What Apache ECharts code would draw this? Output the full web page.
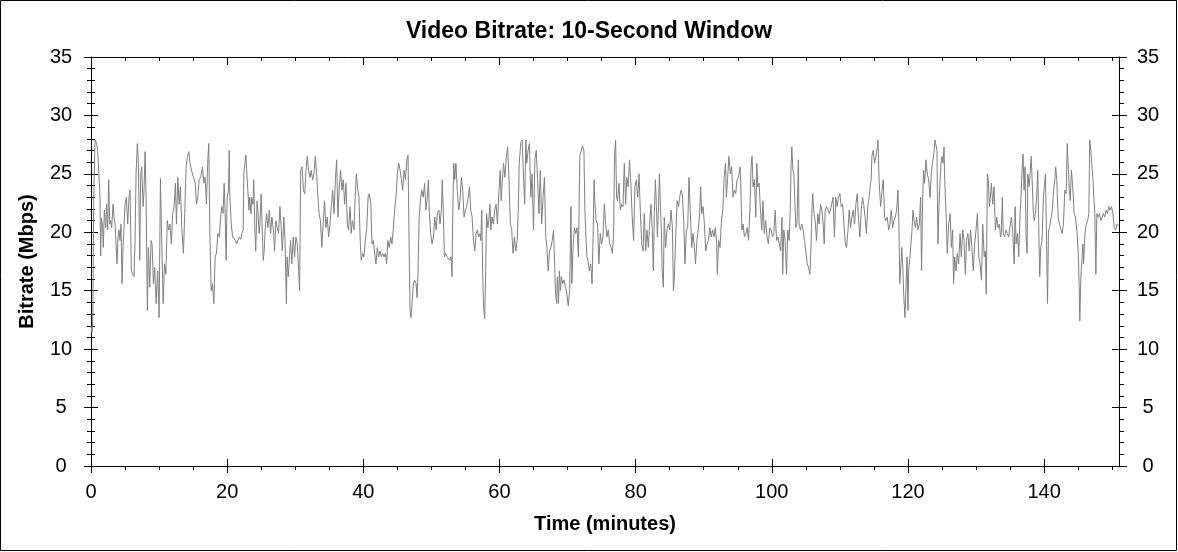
<!DOCTYPE html>
<html>
<head>
<meta charset="utf-8">
<title>Video Bitrate: 10-Second Window</title>
<script src="https://cdn.jsdelivr.net/npm/echarts@6/dist/echarts.min.js"></script>
<style>
html, body { margin: 0; padding: 0; background: #fff; }
#chart { width: 1178px; height: 552px; }
</style>
</head>
<body>
<div id="chart"></div>
<script>
// [minutes, Mbps], one block per stretch of the timeline
var part1 = [[0,12.0],[0.15,11.4],[0.27,12.6],[0.4,23.0],[0.59,27.9],[0.83,27.6],[0.98,27.0],[1.08,25.9],[1.22,26.0],[1.32,23.0],[1.42,18.0],[1.52,21.2],[1.67,20.7],[1.81,18.7],[1.96,21.9],[2.16,20.4],[2.3,22.4],[2.45,20.2],[2.6,24.5],[2.75,20.7],[2.89,21.0],[3.04,20.4],[3.24,22.4],[3.38,21.3],[3.53,20.7],[3.68,19.0],[3.82,17.3],[3.97,19.6],[4.12,20.2],[4.26,19.3],[4.41,20.7],[4.56,15.6],[4.71,18.7],[4.85,20.4],[5.0,22.4],[5.2,23.0],[5.39,20.7],[5.59,23.0],[5.74,23.6],[5.93,16.7],[6.13,16.4],[6.32,16.2],[6.47,19.3],[6.62,25.0],[6.81,27.6],[6.96,25.9],[7.16,17.6],[7.3,25.0],[7.45,25.6],[7.65,22.2],[7.79,23.6],[7.94,26.9],[8.09,23.0],[8.28,13.3],[8.43,18.7],[8.63,15.3],[8.82,19.3],[8.97,19.0],[9.17,15.6],[9.36,17.0],[9.56,13.9],[9.8,16.7],[10.0,12.7],[10.2,24.6],[10.4,19.0],[10.6,13.9],[10.8,17.3],[11.0,16.4],[11.2,21.0],[11.4,20.2],[11.6,20.7],[11.8,19.0],[12.0,21.6],[12.2,22.2],[12.4,24.2],[12.55,20.7],[12.75,24.7],[12.94,22.4],[13.14,23.9],[13.33,20.4],[13.58,18.2],[13.77,21.6],[13.97,25.6],[14.17,26.5],[14.36,26.9],[14.56,25.9],[14.8,25.2],[15.05,25.3],[15.3,24.2],[15.5,22.4],[15.69,23.0],[15.88,24.5],[16.13,24.7],[16.37,25.6],[16.57,24.2],[16.76,24.7],[16.96,22.4],[17.16,26.2],[17.3,27.6],[17.45,20.2],[17.65,15.0],[17.84,15.6],[18.04,13.9],[18.24,17.9],[18.43,18.2],[18.63,19.9],[18.87,19.6]];
var part2 = [[19.0,21.0],[19.2,22.2],[19.4,21.6],[19.56,24.2],[19.7,21.6],[19.85,17.6],[20.0,23.0],[20.2,23.6],[20.3,27.0],[20.4,23.0],[20.6,20.7],[20.8,19.6],[21.0,19.6],[21.2,19.3],[21.4,19.0],[21.57,19.3],[21.8,19.6],[22.0,19.4],[22.16,19.9],[22.35,20.2],[22.45,25.0],[22.6,25.9],[22.75,26.6],[22.9,25.0],[23.04,23.6],[23.2,21.9],[23.3,23.0],[23.5,21.6],[23.6,23.0],[23.8,22.4],[23.9,24.5],[24.07,20.2],[24.2,18.4],[24.4,22.7],[24.5,21.9],[24.7,19.9],[24.8,20.7],[25.0,23.3],[25.15,20.2],[25.3,17.6],[25.44,18.4],[25.6,20.4],[25.8,21.6],[25.98,20.4],[26.2,21.9],[26.37,19.9],[26.57,21.3],[26.8,20.2],[26.96,18.4],[27.15,21.0],[27.35,20.4],[27.55,19.9],[27.75,22.2],[27.94,20.4],[28.1,18.4],[28.33,21.3],[28.5,19.3],[28.7,13.9],[28.8,17.9],[28.97,16.2],[29.1,17.3],[29.3,19.3],[29.5,17.3],[29.7,19.6],[29.9,17.9],[30.1,19.6],[30.3,19.0],[30.5,16.7],[30.64,15.0],[30.8,25.3],[31.0,25.6],[31.2,23.6],[31.4,23.3],[31.57,25.3],[31.77,26.5],[31.96,25.3],[32.16,24.7],[32.35,25.3],[32.55,24.5],[32.75,25.0],[32.94,26.5],[33.14,25.0],[33.33,23.0],[33.5,21.6],[33.7,21.0],[33.9,18.7],[34.1,20.7],[34.3,22.7],[34.5,20.4],[34.7,21.3],[34.9,19.6],[35.1,20.7],[35.3,22.2],[35.5,23.6],[35.7,21.6],[35.9,24.5],[36.08,26.2],[36.27,21.3],[36.47,23.9],[36.67,25.3],[36.86,23.6],[37.06,24.5],[37.25,22.4],[37.45,24.2],[37.65,20.7],[37.84,20.2],[38.04,22.2]];
var part3 = [[38.09,21.9],[38.2,19.9],[38.4,21.0],[38.63,20.2],[38.8,23.0],[38.97,25.0],[39.2,23.6],[39.36,23.0],[39.56,19.0],[39.7,17.6],[39.9,18.2],[40.1,17.9],[40.3,19.3],[40.5,20.4],[40.7,23.0],[40.88,23.3],[41.1,22.4],[41.27,19.0],[41.47,19.3],[41.67,18.2],[41.86,17.3],[42.06,18.7],[42.25,17.9],[42.45,18.4],[42.65,17.9],[42.84,18.2],[43.04,17.9],[43.24,18.2],[43.43,17.3],[43.6,19.3],[43.8,18.7],[44.02,19.6],[44.2,19.0],[44.4,20.2],[44.6,21.9],[44.8,23.0],[45.0,25.0],[45.2,25.9],[45.4,25.3],[45.6,24.5],[45.78,23.6],[45.98,25.3],[46.18,24.5],[46.4,26.2],[46.57,26.6],[46.7,20.2],[46.86,13.3],[47.0,12.7],[47.16,13.9],[47.35,15.6],[47.55,15.9],[47.75,15.6],[47.9,14.4],[48.04,16.7],[48.2,21.3],[48.43,23.0],[48.6,23.6],[48.8,23.0],[49.0,24.2],[49.2,21.9],[49.4,23.0],[49.56,24.5],[49.7,21.6],[49.9,19.9],[50.1,19.0],[50.3,19.6],[50.5,21.3],[50.7,20.2],[50.88,21.6],[51.1,21.9],[51.27,20.7],[51.47,21.9],[51.6,24.5],[51.76,21.6],[51.9,17.9],[52.1,18.2],[52.3,17.9],[52.5,17.9],[52.7,17.6],[52.9,17.9],[53.04,16.2],[53.1,20.2],[53.28,25.9],[53.43,24.5],[53.6,25.9],[53.8,23.6],[54.02,21.9],[54.2,22.7],[54.4,24.7],[54.6,23.6],[54.8,21.3],[55.0,21.9],[55.2,22.2],[55.4,23.0],[55.6,23.9],[55.78,21.9],[55.98,21.3],[56.18,19.3],[56.37,18.4],[56.57,19.9],[56.76,20.2],[56.96,19.6],[57.16,19.9]];
var part4 = [[57.25,19.3],[57.4,21.9],[57.55,15.9],[57.7,13.3],[57.84,12.6],[57.99,17.3],[58.1,21.6],[58.3,20.4],[58.43,21.0],[58.6,22.4],[58.73,20.2],[58.9,21.3],[59.1,20.7],[59.3,21.9],[59.5,22.4],[59.7,20.7],[59.9,23.3],[60.1,25.3],[60.25,22.7],[60.4,24.2],[60.6,25.9],[60.8,24.7],[61.0,26.5],[61.2,27.3],[61.4,24.5],[61.6,20.7],[61.8,20.2],[61.98,18.2],[62.2,19.6],[62.4,18.4],[62.6,19.3],[62.75,21.6],[62.9,25.9],[63.14,27.7],[63.33,27.9],[63.5,25.3],[63.7,22.4],[63.87,27.9],[64.0,25.9],[64.2,27.0],[64.4,27.6],[64.6,23.0],[64.8,25.0],[65.0,20.2],[65.2,26.2],[65.4,27.0],[65.6,24.5],[65.8,21.6],[66.0,25.3],[66.2,20.7],[66.4,23.0],[66.6,24.7],[66.8,19.6],[66.96,18.7],[67.16,16.7],[67.35,18.4],[67.55,18.7],[67.75,19.3],[67.94,20.2],[68.1,17.3],[68.24,14.7],[68.4,13.9],[68.5,16.2],[68.67,13.9],[68.8,16.7],[68.96,15.0],[69.1,16.2],[69.3,15.6],[69.5,15.9],[69.7,15.3],[69.9,14.7],[70.1,13.7],[70.3,15.0],[70.5,22.2],[70.63,15.6],[70.8,18.7],[71.0,20.4],[71.2,19.9],[71.4,20.4],[71.6,17.9],[71.8,26.5],[72.0,27.0],[72.2,27.4],[72.4,27.0],[72.55,21.9],[72.7,19.6],[72.84,17.9],[73.0,17.6],[73.2,16.7],[73.4,17.3],[73.6,15.6],[73.75,19.6],[73.9,24.5],[74.0,22.7],[74.2,21.0],[74.4,20.7],[74.6,17.3],[74.8,19.9],[75.0,19.0],[75.2,19.6],[75.4,22.4],[75.6,20.7],[75.78,19.6],[75.98,20.2],[76.2,19.0]];
var part5 = [[76.4,18.7],[76.57,18.2],[76.76,19.6],[76.9,26.5],[77.06,27.9],[77.2,23.0],[77.35,22.7],[77.55,24.2],[77.75,21.9],[77.94,22.4],[78.14,22.2],[78.33,25.9],[78.53,22.4],[78.7,24.7],[78.9,23.9],[79.1,26.2],[79.3,24.2],[79.5,21.3],[79.7,19.3],[79.9,23.9],[80.1,24.5],[80.3,23.0],[80.5,25.0],[80.7,21.6],[80.9,19.0],[81.1,18.4],[81.27,21.6],[81.47,18.4],[81.67,20.2],[81.86,18.7],[82.06,20.7],[82.25,22.4],[82.45,20.2],[82.6,16.7],[82.75,21.6],[82.9,24.5],[83.04,22.4],[83.2,19.6],[83.33,21.6],[83.5,25.0],[83.6,23.0],[83.77,20.2],[83.9,16.7],[84.07,15.3],[84.2,21.3],[84.4,18.7],[84.6,20.2],[84.8,20.7],[85.0,20.2],[85.2,21.9],[85.4,20.4],[85.55,15.0],[85.7,16.2],[85.9,19.9],[86.1,22.7],[86.3,22.2],[86.47,23.0],[86.67,23.6],[86.86,23.3],[87.06,21.0],[87.25,17.3],[87.45,20.2],[87.65,20.4],[87.84,24.7],[88.04,21.6],[88.24,18.7],[88.43,19.9],[88.6,19.0],[88.8,17.3],[89.0,19.3],[89.2,20.2],[89.4,21.6],[89.55,23.9],[89.7,21.6],[89.9,22.2],[90.1,20.7],[90.3,18.4],[90.5,19.0],[90.7,19.3],[90.9,20.4],[91.1,19.6],[91.3,20.2],[91.5,19.6],[91.7,20.4],[91.9,19.0],[92.0,16.4],[92.2,19.3],[92.4,18.7],[92.6,21.0],[92.8,21.9],[93.0,24.7],[93.2,25.9],[93.33,23.0],[93.5,24.5],[93.7,26.5],[93.9,25.0],[94.1,25.6],[94.3,23.0],[94.5,23.6],[94.7,23.3],[94.9,24.5],[95.1,24.7],[95.35,25.6]];
var part6 = [[95.44,24.2],[95.6,20.2],[95.8,20.7],[95.98,19.6],[96.2,19.9],[96.37,20.4],[96.57,19.3],[96.76,21.6],[96.96,25.6],[97.1,26.5],[97.25,23.9],[97.45,24.5],[97.65,21.3],[97.8,25.9],[97.94,23.9],[98.14,24.2],[98.33,21.9],[98.53,20.2],[98.7,22.7],[98.9,19.9],[99.1,21.0],[99.3,19.6],[99.5,19.0],[99.7,20.4],[99.9,20.2],[100.1,19.6],[100.3,19.9],[100.5,21.9],[100.7,19.3],[100.9,19.6],[101.1,19.0],[101.3,18.4],[101.5,21.3],[101.6,16.4],[101.76,20.2],[101.96,19.3],[102.16,16.4],[102.35,20.2],[102.55,19.3],[102.7,21.6],[102.84,25.9],[102.94,27.3],[103.1,25.3],[103.25,25.0],[103.4,22.4],[103.53,20.4],[103.7,20.7],[103.9,26.2],[104.0,20.7],[104.2,20.2],[104.4,20.7],[104.6,20.2],[104.8,19.3],[105.0,18.4],[105.2,17.3],[105.4,17.0],[105.6,16.4],[105.75,18.7],[105.88,21.6],[106.0,23.3],[106.2,21.6],[106.37,21.0],[106.57,19.3],[106.76,21.6],[106.96,20.7],[107.16,22.4],[107.35,21.9],[107.55,20.7],[107.7,19.0],[107.84,21.9],[108.04,22.2],[108.24,21.9],[108.43,21.6],[108.6,21.9],[108.8,22.4],[109.0,23.0],[109.2,19.6],[109.4,23.0],[109.6,22.2],[109.8,23.0],[110.0,23.3],[110.2,22.2],[110.4,22.4],[110.6,20.7],[110.8,19.0],[110.98,18.7],[111.2,20.2],[111.37,21.9],[111.57,20.4],[111.76,21.3],[111.96,21.9],[112.16,20.7],[112.35,22.4],[112.55,23.3],[112.75,21.0],[112.94,19.6],[113.14,21.9],[113.33,23.0],[113.5,22.4],[113.7,21.3],[113.9,19.9],[114.1,22.2],[114.3,23.0],[114.5,24.2]];
var part7 = [[114.6,24.5],[114.7,26.5],[114.9,27.0],[115.1,25.9],[115.3,26.5],[115.5,27.3],[115.6,27.9],[115.78,24.2],[115.98,22.2],[116.2,23.6],[116.37,24.5],[116.57,21.3],[116.76,21.0],[116.96,21.3],[117.16,20.2],[117.35,20.7],[117.55,21.9],[117.75,20.4],[117.94,21.0],[118.14,21.3],[118.33,21.9],[118.53,23.6],[118.67,20.7],[118.8,15.6],[118.97,17.3],[119.1,18.7],[119.26,16.7],[119.4,14.4],[119.56,12.7],[119.7,15.0],[119.86,17.9],[120.0,13.3],[120.1,16.7],[120.3,17.9],[120.44,19.0],[120.6,20.2],[120.74,21.9],[120.9,21.0],[121.1,20.4],[121.27,21.3],[121.47,20.2],[121.67,20.7],[121.86,23.0],[122.0,16.7],[122.16,23.0],[122.3,25.3],[122.45,24.2],[122.65,26.2],[122.84,25.0],[123.04,24.5],[123.24,23.0],[123.43,25.0],[123.6,25.9],[123.8,26.7],[123.97,27.9],[124.1,27.9],[124.26,27.0],[124.4,19.0],[124.56,22.2],[124.7,24.2],[124.85,25.9],[125.0,26.5],[125.14,25.9],[125.3,27.3],[125.4,24.5],[125.6,21.6],[125.78,18.2],[125.98,20.7],[126.2,21.6],[126.37,18.7],[126.57,20.2],[126.7,15.6],[126.86,17.9],[127.06,16.7],[127.25,18.2],[127.45,17.3],[127.65,19.9],[127.84,17.9],[128.04,20.2],[128.24,19.3],[128.43,16.4],[128.6,19.3],[128.8,19.9],[129.0,18.4],[129.2,20.2],[129.4,18.7],[129.6,16.7],[129.8,19.0],[130.0,20.2],[130.2,21.6],[130.4,17.9],[130.6,17.3],[130.8,15.9],[130.98,20.7],[131.2,17.9],[131.37,18.4],[131.5,14.7],[131.67,25.0],[131.8,24.5],[131.96,22.2],[132.1,23.0],[132.25,24.2],[132.45,22.4],[132.65,23.9],[132.84,20.2],[133.04,21.3],[133.24,20.4],[133.43,20.7],[133.6,19.6]];
var part8 = [[133.7,19.9],[133.87,23.0],[134.0,19.9],[134.2,19.6],[134.4,20.2],[134.6,19.9],[134.8,19.6],[134.98,20.4],[135.2,21.3],[135.4,19.9],[135.6,17.3],[135.74,22.2],[135.88,19.0],[136.08,19.9],[136.27,17.9],[136.47,21.6],[136.6,23.0],[136.76,25.3],[136.9,26.7],[137.06,23.6],[137.2,25.6],[137.35,19.6],[137.5,18.2],[137.6,25.0],[137.8,23.9],[137.94,25.0],[138.1,26.5],[138.24,24.5],[138.4,21.9],[138.53,21.0],[138.73,21.6],[138.9,23.0],[139.07,25.3],[139.2,20.7],[139.36,16.2],[139.5,18.7],[139.7,19.3],[139.9,23.0],[140.1,23.0],[140.2,25.0],[140.36,19.3],[140.5,13.9],[140.64,20.2],[140.8,20.4],[141.0,20.4],[141.2,21.9],[141.4,23.6],[141.57,24.5],[141.7,25.6],[141.86,24.5],[142.06,21.3],[142.25,20.7],[142.45,20.7],[142.65,19.9],[142.84,20.7],[143.04,23.6],[143.24,23.3],[143.4,27.6],[143.53,25.9],[143.7,23.6],[143.84,22.7],[144.0,25.3],[144.1,24.7],[144.3,23.0],[144.4,21.6],[144.6,21.3],[144.8,20.2],[145.0,18.4],[145.16,15.3],[145.24,12.4],[145.4,16.2],[145.55,17.6],[145.7,19.0],[145.8,17.3],[146.0,19.9],[146.2,20.7],[146.4,21.0],[146.57,21.6],[146.7,27.9],[146.86,27.0],[147.0,25.9],[147.16,24.7],[147.3,23.0],[147.45,21.6],[147.6,16.4],[147.75,21.6],[147.94,21.3],[148.14,21.6],[148.33,21.0],[148.53,21.3],[148.7,21.6],[148.9,21.3],[149.1,21.9],[149.3,21.6],[149.5,22.2],[149.7,21.9],[149.9,22.2],[150.1,21.6],[150.3,20.4],[150.5,20.2],[150.7,20.7],[151,20.5]];

var xLabels = [0, 20, 40, 60, 80, 100, 120, 140];
var yLabels = [0, 5, 10, 15, 20, 25, 30, 35];
var xMax = 151;
var yMax = 35;

var bitrate = part1.concat(part2, part3, part4, part5, part6, part7, part8);

// tick positions: minor every 5 minutes / every 1 Mbps
var xMinor = [];
for (var i = 0; i <= 150; i += 5) xMinor.push(i);
var yMinor = [];
for (var j = 0; j <= 35; j++) yMinor.push(j);

var font = 'Liberation Sans, Arial, sans-serif';

// one axis per tick style, all sharing the same extent
function makeAxis(max, pos, ticks, inside, len, showLine, labels, margin) {
    return {
        type: 'value',
        position: pos,
        min: 0,
        max: max,
        splitLine: { show: false },
        axisLine: { show: showLine, onZero: false, lineStyle: { color: '#000', width: 1 } },
        axisTick: { show: true, inside: inside, length: len, customValues: ticks, lineStyle: { color: '#000', width: 1 } },
        axisLabel: labels ? {
            show: true, customValues: labels, margin: margin, color: '#000',
            fontSize: 20, fontFamily: font, align: (pos == 'left' || pos == 'right') ? 'center' : undefined
        } : { show: false }
    };
}

var xAxes = [
    makeAxis(xMax, 'bottom', xMinor, false, 4, true, xLabels, 16),
    makeAxis(xMax, 'bottom', xLabels, false, 7, false),
    makeAxis(xMax, 'bottom', xLabels, true, 7, false),
    makeAxis(xMax, 'top', xMinor, true, 4, true),
    makeAxis(xMax, 'top', xLabels, true, 8, false)
];
xAxes[0].name = 'Time (minutes)';
xAxes[0].nameLocation = 'middle';
xAxes[0].nameGap = 48;
xAxes[0].nameTextStyle = { fontSize: 20, fontWeight: 'bold', fontFamily: font, color: '#000' };

var yAxes = [
    makeAxis(yMax, 'left', yMinor, false, 4, true, yLabels, 30),
    makeAxis(yMax, 'left', yMinor, true, 4, false),
    makeAxis(yMax, 'left', yLabels, false, 7, false),
    makeAxis(yMax, 'left', yLabels, true, 7, false),
    makeAxis(yMax, 'right', yMinor, false, 5, true, yLabels, 29),
    makeAxis(yMax, 'right', yLabels, false, 8, false),
    makeAxis(yMax, 'right', yLabels, true, 7, false)
];
yAxes[0].name = 'Bitrate (Mbps)';
yAxes[0].nameLocation = 'middle';
yAxes[0].nameGap = 54;
yAxes[0].nameRotate = 90;
yAxes[0].nameTextStyle = { fontSize: 20, fontWeight: 'bold', fontFamily: font, color: '#000' };

var myChart = echarts.init(document.getElementById('chart'), null, { renderer: 'canvas' });
var option = {
    animation: false,
    backgroundColor: '#fff',
    title: {
        text: 'Video Bitrate: 10-Second Window',
        left: 'center',
        top: 15,
        textStyle: { fontSize: 23, fontWeight: 'bold', fontFamily: font, color: '#000' }
    },
    grid: { left: 91, right: 59, top: 57, bottom: 86, outerBoundsMode: 'none' },
    xAxis: xAxes,
    yAxis: yAxes,
    graphic: [{
        type: 'rect',
        silent: true,
        shape: { x: 0.5, y: 0.5, width: 1176, height: 550 },
        style: { fill: 'none', stroke: '#000', lineWidth: 1 }
    }],
    series: [{
        name: 'Bitrate',
        type: 'line',
        xAxisIndex: 0,
        yAxisIndex: 0,
        data: bitrate,
        showSymbol: false,
        clip: true,
        lineStyle: { color: '#808080', width: 1 }
    }]
};
myChart.setOption(option);
</script>
</body>
</html>
